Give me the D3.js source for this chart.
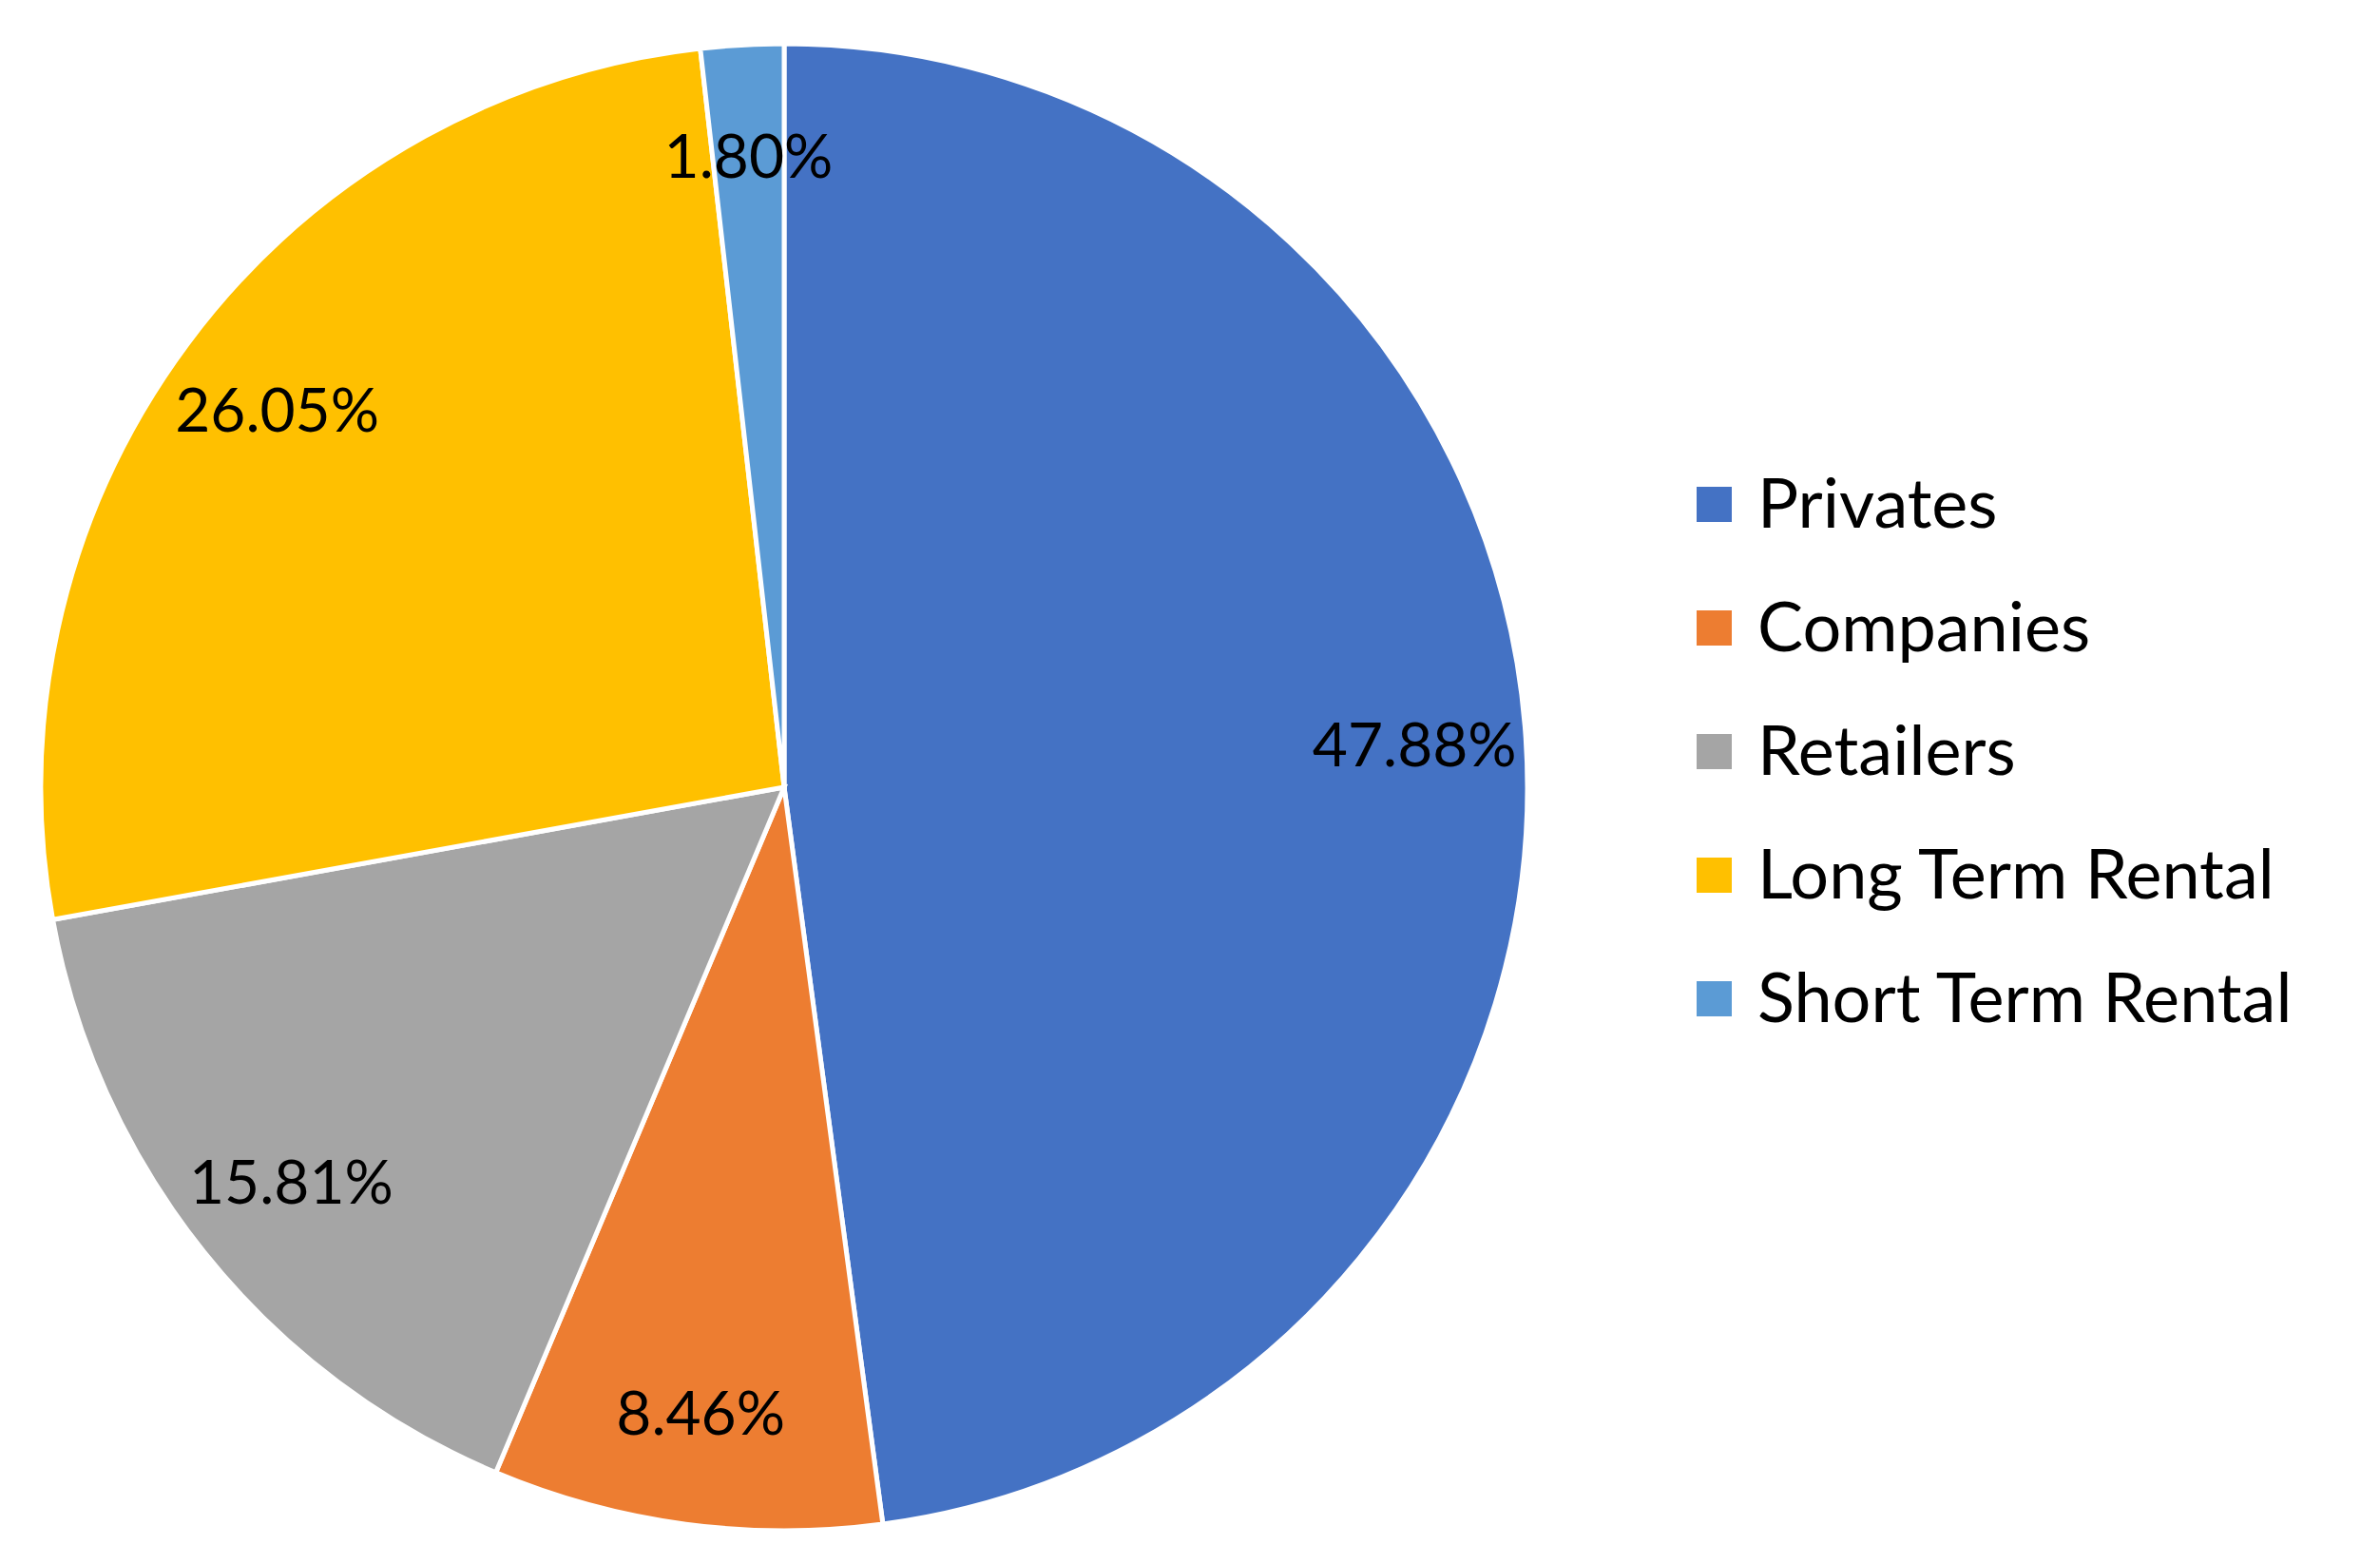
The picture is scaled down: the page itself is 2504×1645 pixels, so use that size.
<!DOCTYPE html>
<html><head><meta charset="utf-8">
<script src="https://cdn.jsdelivr.net/npm/d3@7"></script>
<style>body{margin:0;background:#fff;}text{font-family:Lato,"Open Sans",sans-serif;}</style>
</head><body>
<svg id="chart" width="2504" height="1645"></svg>
<script>
/* data */
var categories = ["Privates", "Companies", "Retailers", "Long Term Rental", "Short Term Rental"];
var shares = [47.88, 8.46, 15.81, 26.05, 1.80];
var colors = ["#4472C4", "#ED7D31", "#A5A5A5", "#FFC000", "#5B9BD5"];

var cx = 825, cy = 828, R = 782;
var svg = d3.select("#chart");

var pie = d3.pie().sort(null).value(function(d){ return d; });
var arcs = pie(shares);
var arc = d3.arc().innerRadius(0).outerRadius(R);
var labelArc = d3.arc().innerRadius(R * 0.85).outerRadius(R * 0.85);

var g = svg.append("g").attr("transform", "translate(" + cx + "," + cy + ")");
g.selectAll("path").data(arcs).enter().append("path")
    .attr("d", arc)
    .attr("fill", function(d, i){ return colors[i]; })
    .attr("stroke", "#fff").attr("stroke-width", 5);

g.selectAll("text.lbl").data(arcs).enter().append("text")
    .attr("class", "lbl")
    .attr("transform", function(d){ return "translate(" + labelArc.centroid(d) + ")"; })
    .attr("text-anchor", "middle").attr("dy", "0.35em")
    .attr("font-size", 64).attr("fill", "#000")
    .text(function(d){ return d.value.toFixed(2) + "%"; });

/* legend */
var leg = svg.append("g").attr("transform", "translate(1785,530)");
var item = leg.selectAll("g").data(categories).enter().append("g")
    .attr("transform", function(d, i){ return "translate(0," + (i * 130) + ")"; });
item.append("rect").attr("x", 0).attr("y", -18).attr("width", 37).attr("height", 37)
    .attr("fill", function(d, i){ return colors[i]; });
item.append("text").attr("x", 64).attr("dy", "0.35em").attr("font-size", 72)
    .attr("fill", "#000").text(function(d){ return d; });
</script>
</body></html>
